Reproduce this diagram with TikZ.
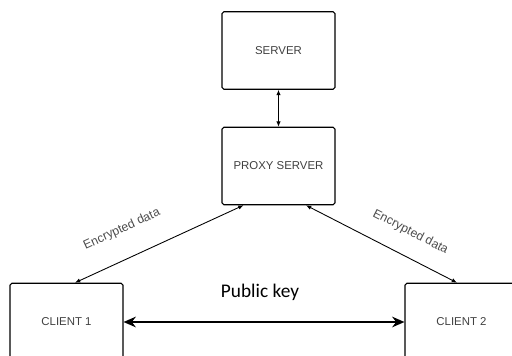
\documentclass[tikz,border=0pt]{standalone}
\usepackage{fontspec}
\setmainfont{Liberation Sans}
\newfontfamily\calibri{Carlito}
\usetikzlibrary{arrows.meta}

\begin{document}
\begin{tikzpicture}[x=0.02cm,y=-0.02cm,
  box/.style={draw, line width=0.6pt, rounded corners=1pt, minimum width=2.26cm,
    minimum height=1.55cm, font=\fontsize{6.5}{7}\selectfont, text=black!75},
  link/.style={{Latex[length=3pt,width=2.5pt]}-{Latex[length=3pt,width=2.5pt]}, line width=0.5pt},
  keylink/.style={{Stealth[length=7pt,width=6pt]}-{Stealth[length=7pt,width=6pt]}, line width=1.5pt},
  lbl/.style={font=\fontsize{7}{8}\selectfont, text=black!70, inner sep=1pt}]
  \useasboundingbox (0,0) rectangle (512,356);
  \clip (0,0) rectangle (512,356);

  \node[box] (server) at (278.5,50.5) {SERVER};
  \node[box] (proxy) at (278.5,166) {PROXY SERVER};
  \node[box] (client1) at (66.5,322) {CLIENT 1};
  \node[box] (client2) at (461.5,322) {CLIENT 2};
  \node[font=\calibri\fontsize{11}{13}\selectfont] (pubkey) at (260,292) {Public key};

  \draw[link] (server.south) -- (proxy.north);
  \draw[link] ([xshift=-0.7cm]proxy.south) -- ([xshift=0.17cm]client1.north)
    node[lbl, pos=0.65, sloped, above=12pt] {Encrypted data};
  \draw[link] ([xshift=0.55cm]proxy.south) -- ([xshift=-0.09cm]client2.north)
    node[lbl, pos=0.62, sloped, above=9pt] {Encrypted data};
  \draw[keylink] (client1.east) -- (client2.west);
\end{tikzpicture}
\end{document}
